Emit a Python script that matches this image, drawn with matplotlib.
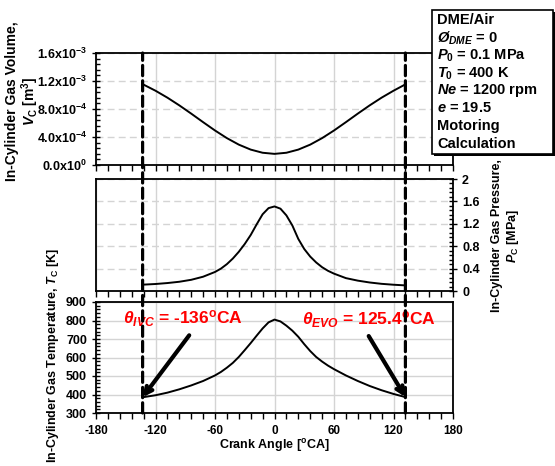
import matplotlib
matplotlib.use("Agg")
import matplotlib.pyplot as plt
from matplotlib.patches import ConnectionPatch, Rectangle
from matplotlib.ticker import MultipleLocator, FixedLocator

plt.rcParams["font.family"] = ["Liberation Sans", "DejaVu Sans"]
plt.rcParams["font.weight"] = "bold"
plt.rcParams["mathtext.fontset"] = "custom"
plt.rcParams["mathtext.rm"] = "Liberation Sans:bold"
plt.rcParams["mathtext.bf"] = "Liberation Sans:bold"
plt.rcParams["mathtext.it"] = "Liberation Sans:bold:italic"
plt.rcParams["axes.unicode_minus"] = False

# crank angle [deg CA] and values
angle_v = [-133, -120, -108, -96, -84, -72, -60, -48, -36, -24, -12, 0,
           12, 24, 36, 48, 60, 72, 84, 96, 108, 120, 132]
volume = [1.155e-3, 1.061e-3, 0.962e-3, 0.852e-3, 0.734e-3, 0.612e-3, 0.493e-3,
          0.384e-3, 0.291e-3, 0.220e-3, 0.175e-3, 0.159e-3, 0.175e-3, 0.220e-3,
          0.291e-3, 0.384e-3, 0.493e-3, 0.612e-3, 0.734e-3, 0.852e-3, 0.962e-3,
          1.061e-3, 1.152e-3]

angle_pt = [-133, -120, -108, -96, -84, -72, -60, -54, -48, -42, -36, -30, -24,
            -18, -12, -6, 0, 6, 12, 18, 24, 30, 36, 42, 48, 54, 60, 72, 84, 96,
            108, 120, 132]
pressure = [0.113, 0.125, 0.142, 0.165, 0.20, 0.255, 0.34, 0.40, 0.48, 0.58,
            0.70, 0.84, 1.00, 1.19, 1.37, 1.48, 1.51, 1.47, 1.35, 1.17, 0.93,
            0.75, 0.615, 0.51, 0.425, 0.36, 0.31, 0.23, 0.185, 0.152, 0.128,
            0.112, 0.10]
temperature = [385, 396, 410, 428, 449, 473, 503, 522, 545, 571, 603, 640, 678,
               718, 757, 790, 805, 795, 772, 745, 712, 672, 635, 603, 578, 556,
               537, 503, 473, 446, 423, 403, 386]

theta_ivc = -133
theta_evo = 132
x_ticks = [-180, -120, -60, 0, 60, 120, 180]
v_ticks = [0, 4e-4, 8e-4, 1.2e-3, 1.6e-3]
v_labels = [r"0.0x10$^{0}$", r"4.0x10$^{-4}$", r"8.0x10$^{-4}$",
            r"1.2x10$^{-3}$", r"1.6x10$^{-3}$"]
p_ticks = [0, 0.4, 0.8, 1.2, 1.6, 2]
p_labels = ["0", "0.4", "0.8", "1.2", "1.6", "2"]
t_ticks = [300, 400, 500, 600, 700, 800, 900]
info_lines = ["DME/Air", r"$Ø_{DME}$ = 0", r"$P_{\mathit{0}}$ = 0.1 MPa",
              r"$T_{\mathit{0}}$ = 400 K", r"$Ne$ = 1200 rpm", r"$e$ = 19.5",
              "Motoring", "Calculation"]

W, H = 555, 466
fig = plt.figure(figsize=(W / 100, H / 100), dpi=100)


def px_axes(left, top, right, bottom):
    return fig.add_axes([left / W, 1 - bottom / H, (right - left) / W, (bottom - top) / H])


ax1 = px_axes(96, 53, 453, 165)
ax2 = px_axes(96, 179, 453, 291)
ax3 = px_axes(96, 302, 453, 413)

grid_c = "#d4d4d4"
for ax in (ax1, ax2, ax3):
    ax.set_xlim(-180, 180)
    ax.xaxis.set_major_locator(FixedLocator(x_ticks))
    ax.xaxis.set_minor_locator(MultipleLocator(12))
    ax.grid(True, axis="x", color=grid_c, lw=1, zorder=0)
    ax.tick_params(axis="x", which="both", direction="out", length=4, width=1,
                   labelsize=8.5)
    ax.tick_params(axis="y", which="major", direction="inout", length=6, width=1,
                   labelsize=9)
    ax.tick_params(axis="y", which="minor", direction="in", length=3, width=1)
    for s in ax.spines.values():
        s.set_linewidth(1.3)
    ax.set_axisbelow(True)

ax1.plot(angle_v, volume, color="black", lw=1.4)
ax1.set_ylim(0, 1.6e-3)
ax1.set_yticks(v_ticks)
ax1.set_yticklabels(v_labels)
ax1.yaxis.set_minor_locator(MultipleLocator(0.8e-4))
ax1.grid(True, axis="y", color=grid_c, lw=1, ls=(0, (5, 3)))
ax1.tick_params(axis="x", labelbottom=False)

ax2.plot(angle_pt, pressure, color="black", lw=1.4)
ax2.set_ylim(0, 2)
ax2.yaxis.tick_right()
ax2.set_yticks(p_ticks)
ax2.set_yticklabels(p_labels)
ax2.yaxis.set_minor_locator(MultipleLocator(0.08))
ax2.grid(True, axis="y", color=grid_c, lw=1, ls=(0, (5, 3)))
ax2.tick_params(axis="x", labelbottom=False)

ax3.plot(angle_pt, temperature, color="black", lw=1.4)
ax3.set_ylim(300, 900)
ax3.set_yticks(t_ticks)
ax3.yaxis.set_minor_locator(MultipleLocator(20))
ax3.grid(True, axis="y", color=grid_c, lw=1)
ax3.tick_params(axis="x", pad=5)

# dashed valve timing lines running through all three panels
for th in (theta_ivc, theta_evo):
    con = ConnectionPatch(xyA=(th, 300), coordsA=ax3.transData,
                          xyB=(th, 1.6e-3), coordsB=ax1.transData,
                          color="black", lw=2.3, ls=(0, (3.2, 1.6)), zorder=4)
    fig.add_artist(con)

ax3.annotate("", xy=(theta_ivc, 385), xytext=(-86, 720),
             arrowprops=dict(arrowstyle="->,head_length=0.5,head_width=0.25",
                             color="black", lw=3, shrinkA=0, shrinkB=0))
ax3.annotate("", xy=(theta_evo, 386), xytext=(95, 716),
             arrowprops=dict(arrowstyle="->,head_length=0.5,head_width=0.25",
                             color="black", lw=3, shrinkA=0, shrinkB=0))
ax3.text(-153, 812, r"$\theta_{IVC}$ = -136$^{\mathrm{o}}$CA", color="red",
         fontsize=12.5, fontweight="bold", va="center", ha="left")
ax3.text(28, 805, r"$\theta_{EVO}$ = 125.4$^{\mathrm{o}}$CA", color="red",
         fontsize=12.5, fontweight="bold", va="center", ha="left")

fig.text(23 / W, 1 - 101 / H, "In-Cylinder Gas Volume,\n" + r"$V_{\mathrm{C}}$ [m$^{3}$]",
         rotation=90, ha="center", va="center", fontsize=10, multialignment="center",
         linespacing=1.05)
fig.text(53 / W, 1 - 356 / H, r"In-Cylinder Gas Temperature, $T_{\mathrm{C}}$ [K]",
         rotation=90, ha="center", va="center", fontsize=9)
fig.text(506 / W, 1 - 236 / H, "In-Cylinder Gas Pressure,\n" + r"$P_{\mathrm{C}}$ [MPa]",
         rotation=90, ha="center", va="center", fontsize=9, multialignment="center",
         linespacing=1.1)
fig.text(274 / W, 1 - 445 / H, r"Crank Angle [$^{\mathrm{o}}$CA]",
         ha="center", va="center", fontsize=9)

# condition box
fig.add_artist(Rectangle((434 / W, 1 - 156 / H), 121 / W, 144 / H,
                         transform=fig.transFigure, facecolor="black",
                         edgecolor="none", zorder=5))
fig.add_artist(Rectangle((432 / W, 1 - 154 / H), 121 / W, 144 / H,
                         transform=fig.transFigure, facecolor="white",
                         edgecolor="black", lw=1.2, zorder=6))
for i, line in enumerate(info_lines):
    fig.text(437 / W, 1 - (20.5 + 17.6 * i) / H, line, fontsize=10.5,
             ha="left", va="center", zorder=7)

fig.savefig("out.png", dpi=100)
